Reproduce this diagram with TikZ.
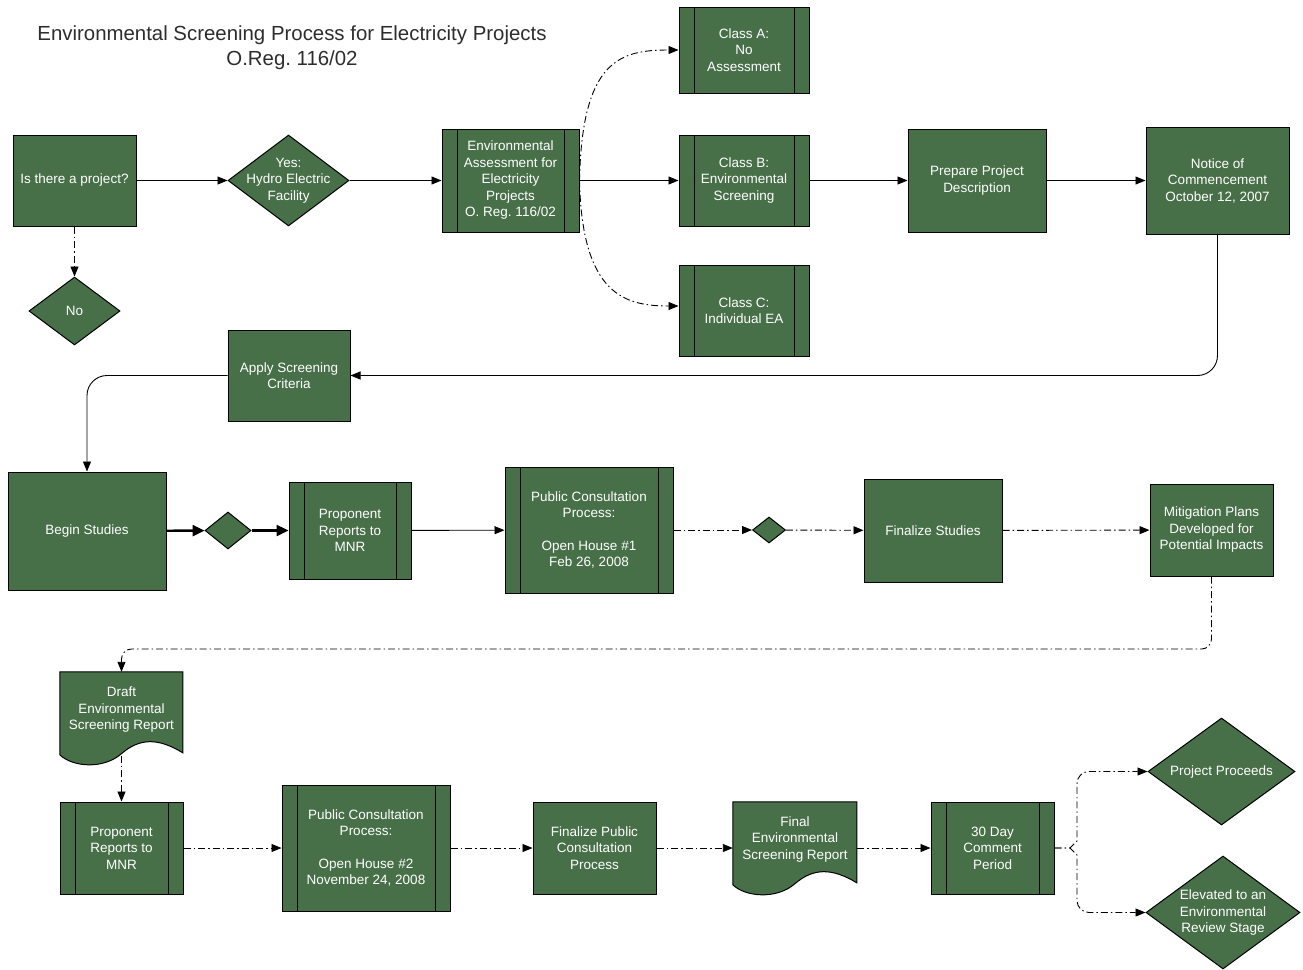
\documentclass[tikz,border=0pt]{standalone}
\usepackage{fontspec}
\setmainfont{Liberation Sans}
\frenchspacing
\usetikzlibrary{shapes.geometric,arrows.meta,backgrounds,calc}
\definecolor{vgreen}{RGB}{71,112,72}
\definecolor{titlegray}{RGB}{45,45,45}
\newcommand\nodefont{\fontsize{13.5}{16.5}\selectfont\frenchspacing}
\newcommand\titlefont{\fontsize{20.4}{25}\selectfont\frenchspacing}
\tikzset{
  box/.style={rectangle, draw=black, line width=1pt, fill=vgreen, text=white, align=center, font=\nodefont, inner sep=0pt},
  sub/.style={box, path picture={
      \draw[line width=1pt] ([xshift=15pt]path picture bounding box.north west) -- ([xshift=15pt]path picture bounding box.south west);
      \draw[line width=1pt] ([xshift=-15pt]path picture bounding box.north east) -- ([xshift=-15pt]path picture bounding box.south east);}},
  dia/.style={diamond, draw=black, line width=1pt, fill=vgreen, inner sep=0pt},
  dtext/.style={text=white, align=center, font=\nodefont},
  doctext/.style={rectangle, draw=none, text=white, align=center, font=\nodefont, inner sep=0pt},
  docshape/.style={draw=black, line width=1pt, fill=vgreen},
  arr/.style={-{Triangle[length=10pt,width=8pt]}, line width=0.9pt},
  dd/.style={arr, dash pattern=on 7pt off 3pt on 1.5pt off 3pt},
  thk/.style={-{Triangle[length=12pt,width=11pt]}, line width=2.4pt},
}
\newcommand\docpath[2]{%
  \begin{pgfonlayer}{background}
  \path[docshape, shift={(#1.north west)}] (0,0) -- (#2,0) -- (#2,81)
    .. controls ({#2*0.8},66) and ({#2*0.65},66) .. ({#2*0.5},82)
    .. controls ({#2*0.35},98) and ({#2*0.1},95) .. (0,83) -- cycle;
  \end{pgfonlayer}}
\begin{document}
\begin{tikzpicture}[x=1pt,y=-1pt]
\useasboundingbox (0,0) rectangle (1303,969);
\node[font=\titlefont, text=titlegray, align=center] (title) at (292,48)
  {Environmental Screening Process for Electricity Projects\\O.Reg. 116/02};

% row 1
\node[box, minimum width=123pt, minimum height=91pt] (proj) at (74.5,180.5) {Is there a project?};
\node[dia, minimum width=121pt, minimum height=91pt,
  label={[dtext]center:Yes:\\Hydro Electric\\Facility}] (yes) at (288.5,180.5) {};
\node[dia, minimum width=91pt, minimum height=68pt,
  label={[dtext]center:No}] (no) at (74.5,311) {};
\node[sub, minimum width=137pt, minimum height=103pt] (ea) at (510.5,180.5)
  {Environmental\\Assessment for\\Electricity\\Projects\\O. Reg. 116/02};
\node[sub, minimum width=130pt, minimum height=86pt] (ca) at (744,50) {Class A:\\No\\Assessment};
\node[sub, minimum width=130pt, minimum height=91pt] (cb) at (744,180.5) {Class B:\\Environmental\\Screening};
\node[sub, minimum width=130pt, minimum height=91pt] (cc) at (744,310.5) {Class C:\\Individual EA};
\node[box, minimum width=138pt, minimum height=103pt] (prep) at (977,180.5) {Prepare Project\\Description};
\node[box, minimum width=143pt, minimum height=107pt] (notice) at (1217.5,180.5) {Notice of\\Commencement\\October 12, 2007};
\node[box, minimum width=122pt, minimum height=91pt] (apply) at (289,375.5) {Apply Screening\\Criteria};

% row 2
\node[box, minimum width=158pt, minimum height=118pt] (begin) at (87,531) {Begin Studies};
\node[dia, minimum width=46pt, minimum height=37pt] (d1) at (228,530.5) {};
\node[sub, minimum width=122pt, minimum height=97pt] (prop1) at (350,530.5) {Proponent\\Reports to\\MNR};
\node[sub, minimum width=168pt, minimum height=126pt] (pc1) at (589,530)
  {Public Consultation\\Process:\\[16pt]Open House \#1\\Feb 26, 2008};
\node[dia, minimum width=33pt, minimum height=26pt] (d2) at (769,530) {};
\node[box, minimum width=138pt, minimum height=103pt] (fin) at (933,530.5) {Finalize Studies};
\node[box, minimum width=123pt, minimum height=92pt] (mit) at (1211.5,530) {Mitigation Plans\\Developed for\\Potential Impacts};

% row 3
\node[doctext, minimum width=123pt, minimum height=76pt] (draft) at (121.5,710) {Draft\\Environmental\\Screening Report};
\docpath{draft}{123}
\node[sub, minimum width=123pt, minimum height=92pt] (prop2) at (121.5,848) {Proponent\\Reports to\\MNR};
\node[sub, minimum width=168pt, minimum height=126pt] (pc2) at (366,848)
  {Public Consultation\\Process:\\[16pt]Open House \#2\\November 24, 2008};
\node[box, minimum width=123pt, minimum height=92pt] (fpc) at (594.5,848) {Finalize Public\\Consultation\\Process};
\node[doctext, minimum width=124pt, minimum height=74pt] (fdoc) at (795,839) {Final\\Environmental\\Screening Report};
\docpath{fdoc}{124}
\node[sub, minimum width=123pt, minimum height=92pt] (t30) at (992.5,848) {30 Day\\Comment\\Period};
\node[dia, minimum width=147pt, minimum height=107pt,
  label={[dtext]center:Project Proceeds}] (pp) at (1221.5,771.5) {};
\node[dia, minimum width=154pt, minimum height=113pt,
  label={[dtext]center:Elevated to an\\Environmental\\Review Stage}] (elev) at (1223,912.5) {};

% helper coordinates
\coordinate (k1) at (0,649);
\coordinate (j) at (1070,848);
\coordinate (jx) at (1077,848);
\coordinate (draftbot) at ([yshift=-84pt]draft.north);

% connectors row 1
\draw[arr] (proj) -- (yes);
\draw[dd] (proj) -- (no);
\draw[arr] (yes) -- (ea);
\draw[dd] (ea.east) .. controls (582,60) and (620,50) .. (ca.west);
\draw[dd] (ea.east) .. controls (582,295) and (625,306) .. ([yshift=4.5pt]cc.west);
\draw[arr] (ea) -- (cb);
\draw[arr] (cb) -- (prep);
\draw[arr] (prep) -- (notice);
\draw[arr, rounded corners=20pt] (notice.south) |- (apply.east);
\draw[arr, rounded corners=20pt] (apply.west) -| (begin.north);

% row 2
\draw[thk] (begin) -- (d1);
\draw[thk] (d1) -- (prop1);
\draw[arr] (prop1) -- (pc1);
\draw[dd] (pc1) -- (d2);
\draw[dd] (d2) -- (fin);
\draw[dd] (fin) -- (mit);
\draw[dd, rounded corners=10pt] (mit.south) -- (mit.south |- k1) -| (draft.north);

% row 3
\draw[dd] (draftbot) -- (prop2);
\draw[dd] (prop2) -- (pc2);
\draw[dd] (pc2) -- (fpc);
\draw[dd] (fpc.east) -- (fpc.east -| fdoc.west);
\draw[dd] (fdoc.east |- t30) -- (t30.west);
\draw[dd] (t30.east) -- (j) -- ([yshift=7pt]jx) [rounded corners=12pt] -- (jx |- pp.west) -- (pp.west);
\draw[dd] (t30.east) -- (j) -- ([yshift=-7pt]jx) [rounded corners=12pt] -- (jx |- elev.west) -- (elev.west);
\end{tikzpicture}
\end{document}
